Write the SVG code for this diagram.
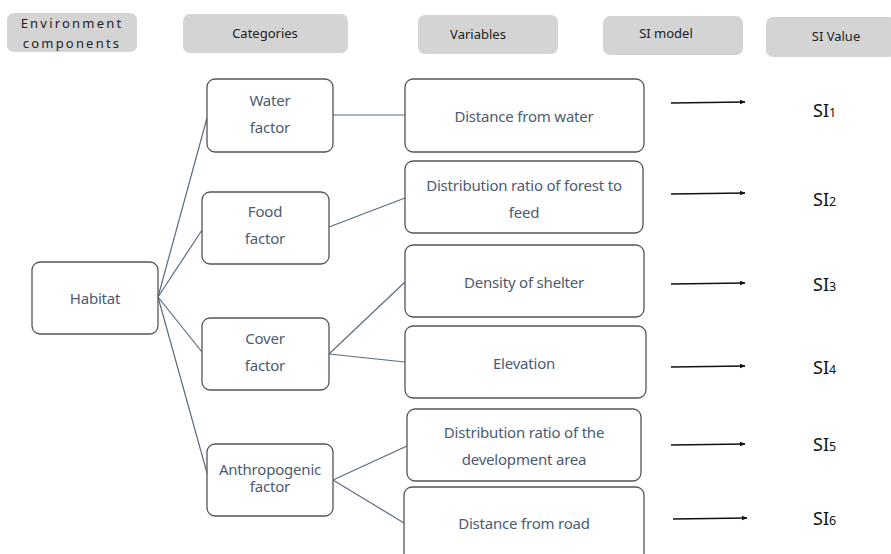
<svg xmlns="http://www.w3.org/2000/svg" width="891" height="554" viewBox="0 0 891 554">
<style>
.hdr{fill:#d4d4d4;stroke:none}
.ht{font-family:"Noto Sans","Liberation Sans",sans-serif;font-size:13px;fill:#222;text-anchor:middle}
.box{fill:#fff;stroke:#555;stroke-width:1.3}
.t{font-family:"Noto Sans","Liberation Sans",sans-serif;font-size:15px;letter-spacing:-0.2px;fill:#4b5b72;text-anchor:middle}
.c{stroke:#5b6b80;stroke-width:1.2;fill:none}
.a{stroke:#111;stroke-width:1.3;fill:none;marker-end:url(#ah)}
.si{font-family:"Noto Sans","Liberation Sans",sans-serif;font-size:18px;fill:#111}
.sub{font-size:12.5px}
</style>
<defs>
<marker id="ah" viewBox="0 0 10 10" refX="9" refY="5" markerWidth="6" markerHeight="6" orient="auto" markerUnits="userSpaceOnUse">
<path d="M0,1 L10,5 L0,9 z" fill="#111"/>
</marker>
</defs>
<rect width="891" height="554" fill="#fff"/>
<g id="headers">
<g id="h-env"><rect class="hdr" x="7" y="13" width="130" height="39" rx="7"/>
<text class="ht" x="72" y="28" letter-spacing="2.2">Environment</text>
<text class="ht" x="72" y="48" letter-spacing="2.2">components</text></g>
<g id="h-cat"><rect class="hdr" x="183" y="14" width="165" height="39" rx="7"/><text class="ht" x="265" y="38">Categories</text></g>
<g id="h-var"><rect class="hdr" x="418" y="15" width="140" height="39" rx="7"/><text class="ht" x="478" y="39">Variables</text></g>
<g id="h-sim"><rect class="hdr" x="603" y="16" width="140" height="39" rx="7"/><text class="ht" x="666" y="38">SI model</text></g>
<g id="h-siv"><rect class="hdr" x="766" y="17" width="130" height="40" rx="7"/><text class="ht" x="836" y="41">SI Value</text></g>
</g>
<g id="connectors">
<line class="c" x1="158" y1="297" x2="207" y2="118"/>
<line class="c" x1="158" y1="297" x2="202" y2="230"/>
<line class="c" x1="158" y1="297" x2="202" y2="352"/>
<line class="c" x1="158" y1="297" x2="207" y2="473"/>
<line class="c" x1="333" y1="115" x2="405" y2="115"/>
<line class="c" x1="329" y1="227" x2="405" y2="198"/>
<line class="c" x1="329" y1="354" x2="405" y2="282"/>
<line class="c" x1="329" y1="354" x2="405" y2="362"/>
<line class="c" x1="333" y1="480" x2="407" y2="446"/>
<line class="c" x1="333" y1="480" x2="404" y2="523"/>
<line class="a" x1="671" y1="103" x2="745" y2="102"/>
<line class="a" x1="671" y1="194" x2="745" y2="193"/>
<line class="a" x1="671" y1="284" x2="745" y2="283"/>
<line class="a" x1="671" y1="367" x2="745" y2="366"/>
<line class="a" x1="671" y1="445" x2="745" y2="444"/>
<line class="a" x1="673" y1="519" x2="747" y2="518"/>
</g>
<g id="habitat"><rect class="box" x="32" y="262" width="126" height="72" rx="8"/><text class="t" x="95" y="304">Habitat</text></g>
<g id="water-factor"><rect class="box" x="207" y="79" width="126" height="73" rx="8"/><text class="t" x="270" y="106">Water</text><text class="t" x="270" y="133">factor</text></g>
<g id="food-factor"><rect class="box" x="202" y="192" width="127" height="72" rx="8"/><text class="t" x="265" y="217">Food</text><text class="t" x="265" y="244">factor</text></g>
<g id="cover-factor"><rect class="box" x="202" y="318" width="127" height="72" rx="8"/><text class="t" x="265" y="344">Cover</text><text class="t" x="265" y="371">factor</text></g>
<g id="anthropogenic-factor"><rect class="box" x="207" y="444" width="126" height="72" rx="8"/><text class="t" x="270" y="475">Anthropogenic</text><text class="t" x="270" y="492">factor</text></g>
<g id="v-water"><rect class="box" x="405" y="79" width="239" height="73" rx="8"/><text class="t" x="524" y="122">Distance from water</text></g>
<g id="v-forest"><rect class="box" x="405" y="161" width="238" height="72" rx="8"/><text class="t" x="524" y="191">Distribution ratio of forest to</text><text class="t" x="524" y="218">feed</text></g>
<g id="v-shelter"><rect class="box" x="405" y="245" width="239" height="72" rx="8"/><text class="t" x="524" y="288">Density of shelter</text></g>
<g id="v-elevation"><rect class="box" x="405" y="326" width="241" height="72" rx="8"/><text class="t" x="524" y="369">Elevation</text></g>
<g id="v-development"><rect class="box" x="407" y="409" width="234" height="72" rx="8"/><text class="t" x="524" y="438">Distribution ratio of the</text><text class="t" x="524" y="465">development area</text></g>
<g id="v-road"><rect class="box" x="404" y="487" width="240" height="80" rx="8"/><text class="t" x="524" y="529">Distance from road</text></g>
<g id="si-values">
<text class="si" x="813" y="117">SI<tspan class="sub">1</tspan></text>
<text class="si" x="813" y="206">SI<tspan class="sub">2</tspan></text>
<text class="si" x="813" y="291">SI<tspan class="sub">3</tspan></text>
<text class="si" x="813" y="374">SI<tspan class="sub">4</tspan></text>
<text class="si" x="813" y="451">SI<tspan class="sub">5</tspan></text>
<text class="si" x="813" y="525">SI<tspan class="sub">6</tspan></text>
</g>
</svg>
